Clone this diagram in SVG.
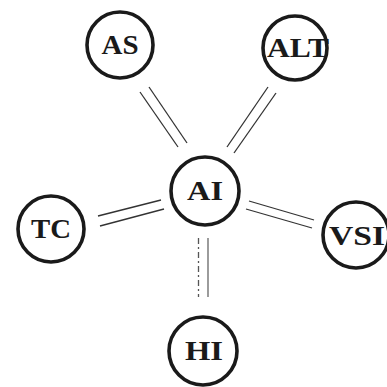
<svg xmlns="http://www.w3.org/2000/svg" width="387" height="387" viewBox="0 0 387 387">
<style>
.node circle{fill:#fff;stroke:#1a1a1a;stroke-width:3.6}
.node text{font-family:"Liberation Serif","DejaVu Serif",serif;font-weight:bold;font-size:27px;fill:#1a1a1a;text-anchor:middle;dominant-baseline:central}
.edge line{stroke:#333;stroke-width:1.3;fill:none}
</style>
<rect width="387" height="387" fill="#fff"/>
<g id="connectors" class="edge">
<line x1="140" y1="92" x2="178" y2="147"/>
<line x1="149" y1="87" x2="187" y2="143"/>
<line x1="268" y1="87" x2="227" y2="147"/>
<line x1="276" y1="93" x2="234" y2="153"/>
<line x1="98" y1="216" x2="161" y2="200"/>
<line x1="100" y1="226" x2="164" y2="209"/>
<line x1="249" y1="201" x2="314" y2="220"/>
<line x1="246" y1="209" x2="312" y2="228"/>
<line x1="198.5" y1="238" x2="198.5" y2="297" stroke-dasharray="6 3 2 3" style="stroke:#555"/>
<line x1="208" y1="238" x2="208" y2="297" style="stroke:#666"/>
</g>
<g id="AS" class="node"><circle cx="120" cy="45" r="33"/><text x="120" y="45" textLength="37" lengthAdjust="spacingAndGlyphs">AS</text></g>
<g id="ALT" class="node"><circle cx="295" cy="48" r="32"/><text x="298" y="48" textLength="62" lengthAdjust="spacingAndGlyphs">ALT</text></g>
<g id="AI" class="node"><circle cx="205" cy="191" r="34"/><text x="205" y="191" textLength="36" lengthAdjust="spacingAndGlyphs">AI</text></g>
<g id="TC" class="node"><circle cx="51" cy="229" r="33"/><text x="51" y="229" textLength="40" lengthAdjust="spacingAndGlyphs">TC</text></g>
<g id="VSI" class="node"><circle cx="356" cy="235" r="33"/><text x="357" y="236" textLength="56" lengthAdjust="spacingAndGlyphs">VSI</text></g>
<g id="HI" class="node"><circle cx="203" cy="351" r="34"/><text x="204" y="351" textLength="38" lengthAdjust="spacingAndGlyphs">HI</text></g>
</svg>
